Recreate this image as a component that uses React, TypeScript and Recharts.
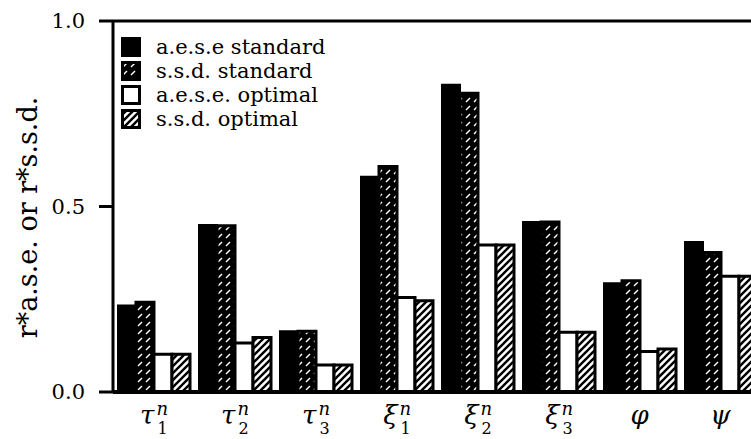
import React from 'react';
import { BarChart, Bar, XAxis, YAxis, Legend, ReferenceLine } from 'recharts';

const categories = ['tau1', 'tau2', 'tau3', 'xi1', 'xi2', 'xi3', 'phi', 'psi'];
const labelMain = ['τ', 'τ', 'τ', 'ξ', 'ξ', 'ξ', 'φ', 'ψ'];
const labelSup = ['n', 'n', 'n', 'n', 'n', 'n', '', ''];
const labelSub = ['1', '2', '3', '1', '2', '3', '', ''];

const aeseStandard = [0.233, 0.45, 0.164, 0.58, 0.828, 0.458, 0.293, 0.404];
const ssdStandard = [0.242, 0.448, 0.164, 0.608, 0.805, 0.458, 0.3, 0.376];
const aeseOptimal = [0.102, 0.132, 0.073, 0.255, 0.396, 0.161, 0.109, 0.312];
const ssdOptimal = [0.102, 0.147, 0.073, 0.246, 0.396, 0.161, 0.116, 0.312];

const yTicks = [0, 0.5, 1.0];
const seriesNames = ['a.e.s.e standard', 's.s.d. standard', 'a.e.s.e. optimal', 's.s.d. optimal'];
const yLabel = 'r*a.s.e. or r*s.s.d.';

const data = categories.map((c, i) => ({
  cat: c,
  aeseStd: aeseStandard[i],
  ssdStd: ssdStandard[i],
  aeseOpt: aeseOptimal[i],
  ssdOpt: ssdOptimal[i],
}));

const FONT = 'DejaVu Serif';
const fills = ['#000', 'url(#hatchStd)', '#fff', 'url(#hatchOpt)'];

const XTick = (props: any) => {
  const { x, y, payload } = props;
  const i = categories.indexOf(payload.value);
  const main = labelMain[i];
  if (!labelSup[i]) {
    return (
      <text x={x} y={y + 32} textAnchor="middle" fontFamily={FONT} fontStyle="italic" fontSize={26} fill="#000">
        {main}
      </text>
    );
  }
  return (
    <g>
      <text x={x + 1} y={y + 32} textAnchor="end" fontFamily={FONT} fontStyle="italic" fontSize={26} fill="#000">
        {main}
      </text>
      <text x={x + 3} y={y + 23} textAnchor="start" fontFamily={FONT} fontStyle="italic" fontSize={18} fill="#000">
        {labelSup[i]}
      </text>
      <text x={x + 4} y={y + 42} textAnchor="start" fontFamily={FONT} fontSize={16} fill="#000">
        {labelSub[i]}
      </text>
    </g>
  );
};

const renderLegend = () => (
  <div style={{ fontFamily: FONT, fontSize: 21, color: '#000' }}>
    {seriesNames.map((n, i) => (
      <div key={n} style={{ display: 'flex', alignItems: 'center', height: 24, whiteSpace: 'nowrap' }}>
        <svg width={20} height={20} style={{ display: 'block' }}>
          <rect x={1.5} y={1.5} width={17} height={17} fill={fills[i]} stroke="#000" strokeWidth={3} />
        </svg>
        <span style={{ marginLeft: 15, lineHeight: '24px' }}>{n}</span>
      </div>
    ))}
  </div>
);

const YLabel = (props: any) => {
  const vb = props.viewBox || { x: 0, y: 21, width: 113, height: 371 };
  const cx = vb.x + 27;
  const cy = vb.y + vb.height / 2 + 11;
  return (
    <text
      x={cx}
      y={cy}
      transform={`rotate(-90, ${cx}, ${cy})`}
      textAnchor="middle"
      dominantBaseline="central"
      fontFamily={FONT}
      fontSize={27}
      fill="#000"
    >
      {yLabel}
    </text>
  );
};

export default function App() {
  return (
    <div style={{ position: 'absolute', left: 0, top: 0, width: 751, height: 439, overflow: 'hidden', background: '#fff' }}>
      <svg width={0} height={0} style={{ position: 'absolute' }}>
        <defs>
          <pattern id="hatchStd" patternUnits="userSpaceOnUse" width={8} height={8}>
            <rect x={0} y={0} width={8} height={8} fill="#000" />
            <line x1={2} y1={6} x2={6} y2={2} stroke="#fff" strokeWidth={1.5} />
          </pattern>
          <pattern id="hatchOpt" patternUnits="userSpaceOnUse" width={7} height={7}>
            <rect x={0} y={0} width={7} height={7} fill="#fff" />
            <line x1={-1} y1={8} x2={8} y2={-1} stroke="#000" strokeWidth={2.4} />
            <line x1={-1} y1={1} x2={1} y2={-1} stroke="#000" strokeWidth={2.4} />
            <line x1={6} y1={8} x2={8} y2={6} stroke="#000" strokeWidth={2.4} />
          </pattern>
        </defs>
      </svg>
      <BarChart
        width={770}
        height={439}
        data={data}
        margin={{ top: 21, right: 9, bottom: 0, left: 0 }}
        barSize={18}
        barGap={0}
      >
        <XAxis
          dataKey="cat"
          height={47}
          interval={0}
          tickSize={0}
          tickMargin={0}
          tick={<XTick />}
          axisLine={{ stroke: '#000', strokeWidth: 4 }}
        />
        <YAxis
          width={113}
          domain={[0, 1]}
          ticks={yTicks}
          tickFormatter={(v: number) => v.toFixed(1)}
          tickSize={14}
          tickMargin={14}
          axisLine={{ stroke: '#000', strokeWidth: 3 }}
          tickLine={{ stroke: '#000', strokeWidth: 3 }}
          tick={{ fontFamily: FONT, fontSize: 21, fill: '#000' }}
          label={<YLabel />}
        />
        <ReferenceLine y={1} stroke="#000" strokeWidth={3} />
        <Legend
          layout="vertical"
          align="center"
          verticalAlign="middle"
          content={renderLegend}
          wrapperStyle={{ left: 121, top: 35, width: 320, height: 100 }}
        />
        <Bar dataKey="aeseStd" name={seriesNames[0]} fill={fills[0]} stroke="#000" strokeWidth={2} isAnimationActive={false} />
        <Bar dataKey="ssdStd" name={seriesNames[1]} fill={fills[1]} stroke="#000" strokeWidth={3} isAnimationActive={false} />
        <Bar dataKey="aeseOpt" name={seriesNames[2]} fill={fills[2]} stroke="#000" strokeWidth={3} isAnimationActive={false} />
        <Bar dataKey="ssdOpt" name={seriesNames[3]} fill={fills[3]} stroke="#000" strokeWidth={3} isAnimationActive={false} />
      </BarChart>
    </div>
  );
}
